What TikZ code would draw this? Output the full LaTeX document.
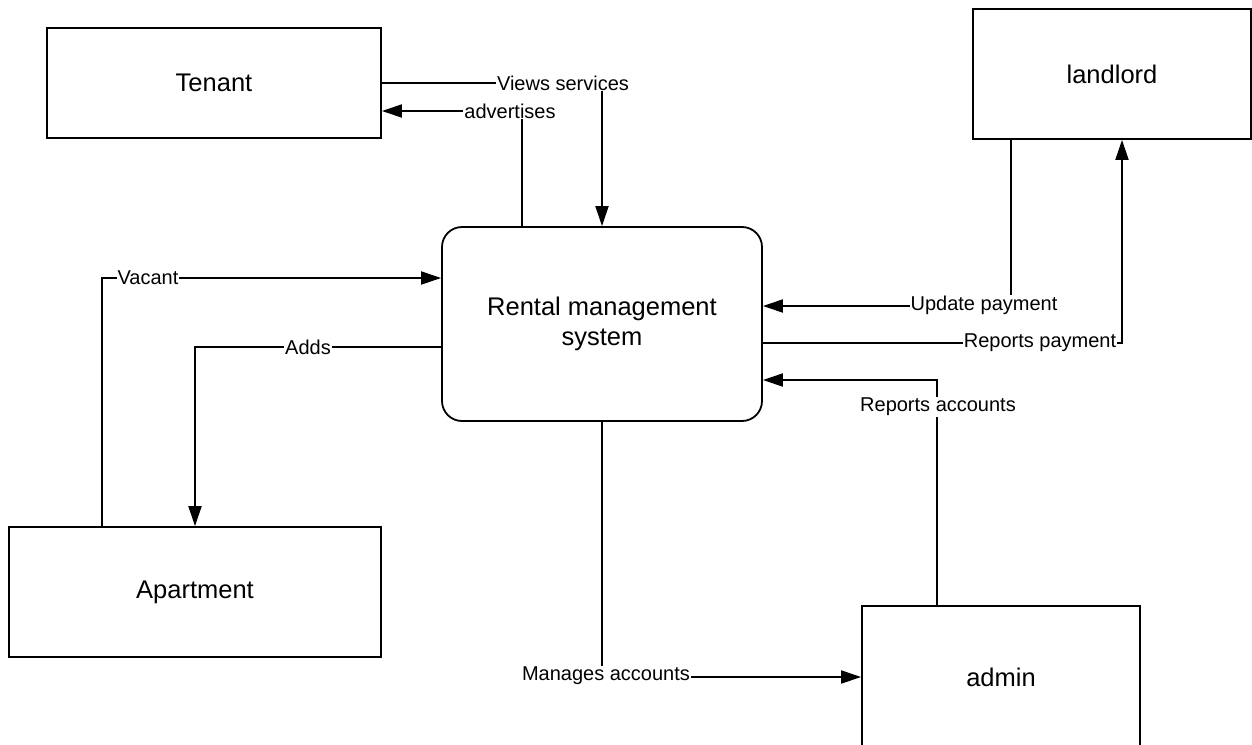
\documentclass[tikz,border=0pt]{standalone}
\usepackage{fontspec}
\setmainfont{Liberation Sans}
\usetikzlibrary{arrows.meta}
\begin{document}
\begin{tikzpicture}[x=1pt,y=-1pt,
  boxnode/.style={draw,line width=1.8pt,font=\fontsize{25.5}{30}\selectfont,align=center,inner sep=0pt},
  lbl/.style={fill=white,inner sep=1pt,font=\fontsize{20}{24}\selectfont},
  arr/.style={line width=1.9pt,-{Triangle[length=20pt,width=13pt]}}]
\useasboundingbox (0,0) rectangle (1252,744);
\fill[white] (0,0) rectangle (1252,744);

\node[boxnode,minimum width=334pt,minimum height=110pt] (tenant) at (214,83) {Tenant};
\node[boxnode,minimum width=278pt,minimum height=130pt] (landlord) at (1112,74) {landlord};
\node[boxnode,rounded corners=20pt,minimum width=320pt,minimum height=194pt] (sys) at (602,324) {Rental management\\system};
\node[boxnode,minimum width=372pt,minimum height=130pt] (apt) at (195,592) {Apartment};
\node[boxnode,minimum width=278pt,minimum height=142pt] (admin) at (1001,677) {admin};

% Views services
\draw[arr] (tenant.east) -| (sys.north);
\node[lbl] (lvs) at (563,83) {Views services};
% advertises
\draw[arr] ([xshift=-80pt]sys.north) |- (tenant.east |- 0,111);
\node[lbl] (ladv) at (510,111) {advertises};
% Update payment
\draw[arr] ([xshift=-101pt]landlord.south) |- (sys.east |- 0,306);
\node[lbl] (lup) at (984,305) {Update payment};
% Reports payment
\draw[arr] (sys.east |- 0,343) -| ([xshift=10pt]landlord.south);
\node[lbl] (lrp) at (1040,343) {Reports payment};
% Reports accounts
\draw[arr] ([xshift=-64pt]admin.north) |- (sys.east |- 0,380);
\node[lbl] (lra) at (938,407) {Reports accounts};
% Manages accounts
\draw[arr] (sys.south) |- (admin.west);
\node[lbl] (lma) at (606,676) {Manages accounts};
% Vacant
\draw[arr] ([xshift=-93pt]apt.north) |- (sys.west |- 0,278);
\node[lbl] (lvac) at (148,278) {Vacant};
% Adds
\draw[arr] (sys.west |- 0,347) -| (apt.north);
\node[lbl] (ladd) at (308,347) {Adds};
\end{tikzpicture}
\end{document}
